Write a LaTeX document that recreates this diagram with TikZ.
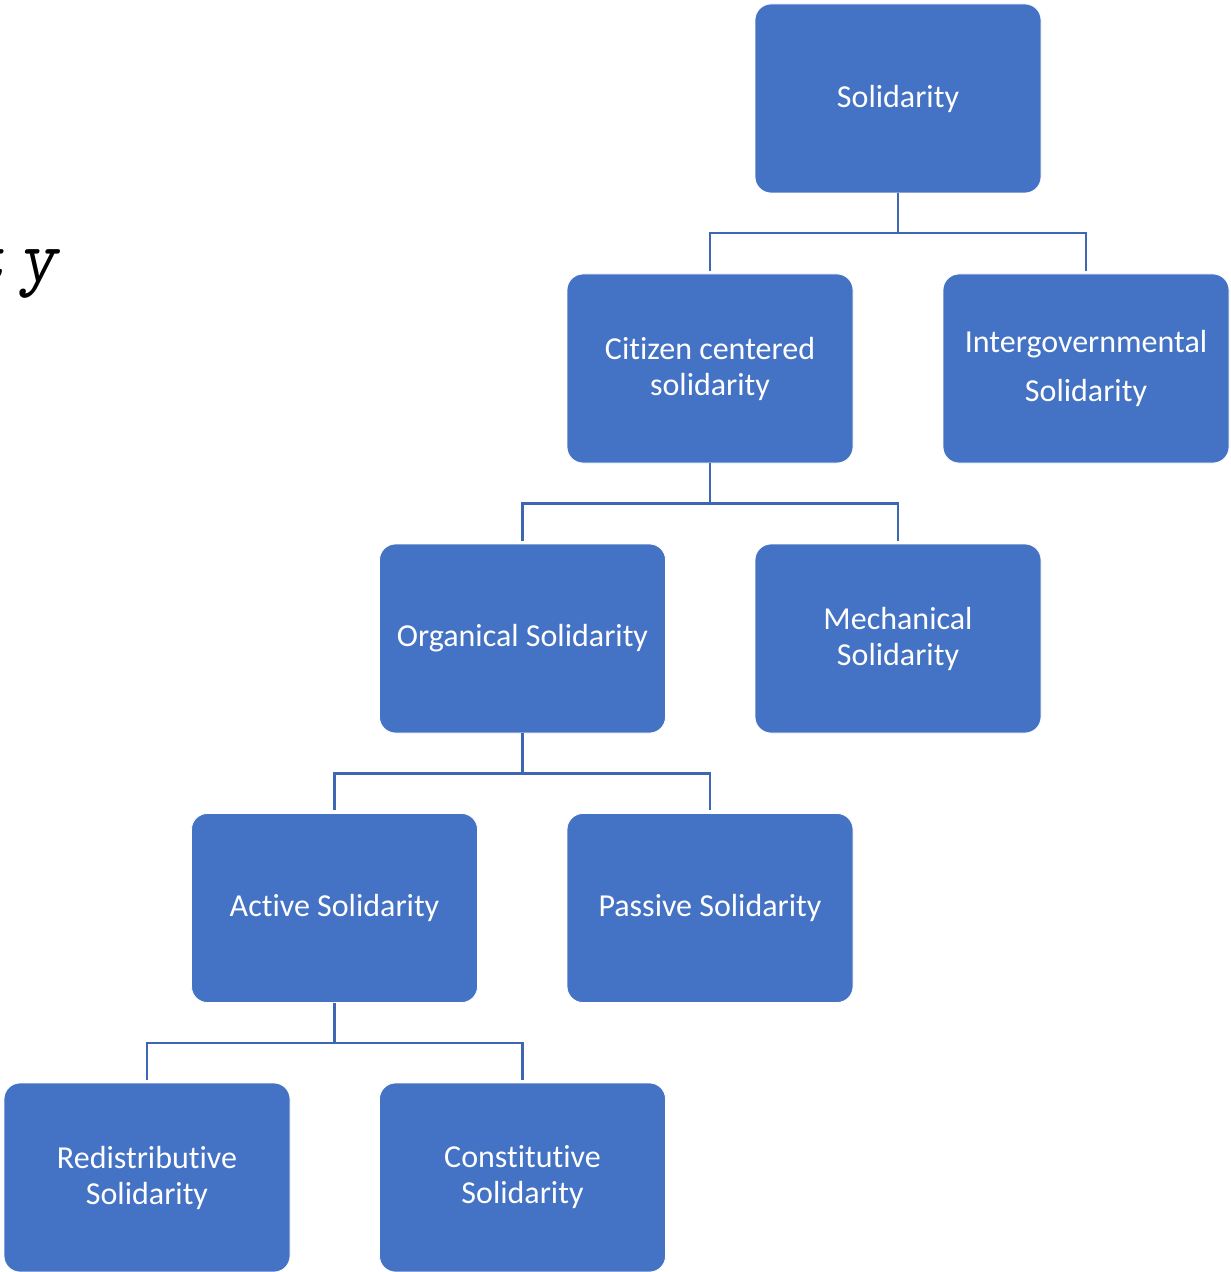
\documentclass[tikz,border=0pt]{standalone}
\usepackage{fontspec}
\setmainfont{Carlito}[Ligatures={NoCommon}]
\definecolor{boxblue}{HTML}{4472C4}
\definecolor{linkblue}{HTML}{3D67B5}
\begin{document}
\begin{tikzpicture}[x=0.5pt,y=-0.5pt,
  orgbox/.style={rectangle, rounded corners=8pt, fill=boxblue, draw=white, line width=0.4pt,
    minimum width=143pt, minimum height=94.5pt, inner sep=0pt, text=white, align=center,
    font=\fontsize{16}{18}\selectfont},
  conn/.style={draw=linkblue, line width=1.1pt}]
\useasboundingbox (0,0) rectangle (1230,1272);
\node[anchor=base east, inner sep=0pt, font=\ttfamily\slshape\fontsize{37}{40}\selectfont] (frag) at (58,282) {t\kern6pt y};
\node[orgbox] (sol) at (898,98.5) {Solidarity};
\node[orgbox] (cit) at (710,368.5) {Citizen centered\\solidarity};
\node[orgbox, font=\fontsize{16}{24.5}\selectfont] (int) at (1086,368.5) {Intergovernmental\\Solidarity};
\node[orgbox] (org) at (522.5,638.5) {Organical Solidarity};
\node[orgbox] (mec) at (898,638.5) {Mechanical\\Solidarity};
\node[orgbox] (act) at (334.5,908) {Active Solidarity};
\node[orgbox] (pas) at (710,908) {Passive Solidarity};
\node[orgbox] (red) at (147,1177.5) {Redistributive\\Solidarity};
\node[orgbox] (con) at (522.5,1177.5) {Constitutive\\Solidarity};
% connectors
\draw[conn] (sol.south) -- ++(0,40) coordinate (j1);
\draw[conn] (j1) -| ([yshift=1.5pt]cit.north);
\draw[conn] (j1) -| ([yshift=1.5pt]int.north);
\draw[conn] (cit.south) -- ++(0,40) coordinate (j2);
\draw[conn] (j2) -| ([yshift=1.5pt]org.north);
\draw[conn] (j2) -| ([yshift=1.5pt]mec.north);
\draw[conn] (org.south) -- ++(0,40) coordinate (j3);
\draw[conn] (j3) -| ([yshift=1.5pt]act.north);
\draw[conn] (j3) -| ([yshift=1.5pt]pas.north);
\draw[conn] (act.south) -- ++(0,40) coordinate (j4);
\draw[conn] (j4) -| ([yshift=1.5pt]red.north);
\draw[conn] (j4) -| ([yshift=1.5pt]con.north);
\end{tikzpicture}
\end{document}
